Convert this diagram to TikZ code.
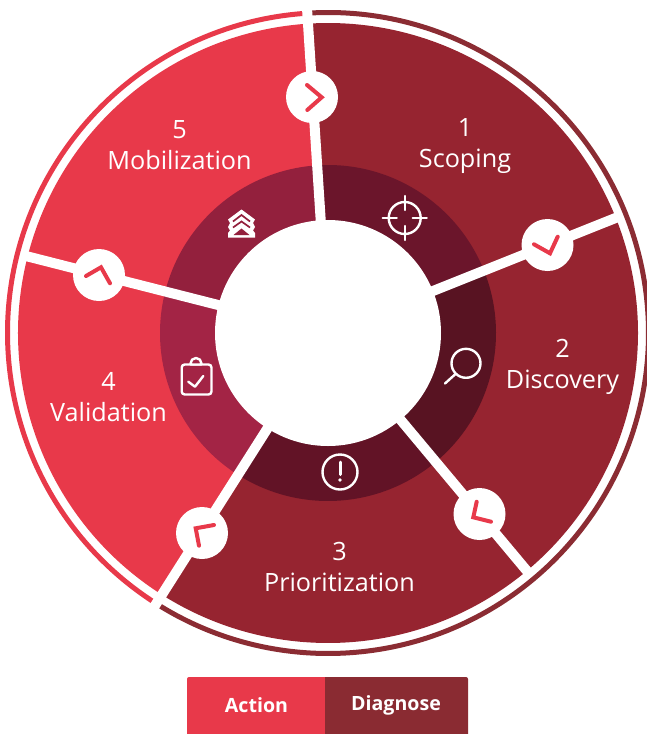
\documentclass[tikz,border=0pt]{standalone}
\usepackage{fontspec}
\setmainfont{Open Sans}
\usetikzlibrary{calc}
\definecolor{lite}{HTML}{E8394A}
\definecolor{dark}{HTML}{962430}
\definecolor{ringdark}{HTML}{8B2C33}
\definecolor{legdark}{HTML}{8A2B32}
\definecolor{midA}{HTML}{6B152B}
\definecolor{midB}{HTML}{581322}
\definecolor{midC}{HTML}{621326}
\definecolor{midD}{HTML}{A32445}
\definecolor{midE}{HTML}{93203D}
\tikzset{
  x=1pt,y=-1pt,
  divider/.style={draw=white,line width=10pt},
  badge/.style={circle,fill=white,draw=none,minimum size=52pt,inner sep=0pt},
  chev/.style={draw=lite,line width=4pt,line cap=round,line join=miter},
  icon/.style={draw=white,line width=2.4pt,line cap=round,line join=round,fill=none},
  lab/.style={text=white,font=\fontsize{25.2}{31}\selectfont,align=center,inner sep=0pt},
  leg/.style={text=white,font=\fontsize{19.6}{22}\selectfont\bfseries,inner sep=0pt}
}
\newcommand{\sector}[4]{\fill[#4] (328,333) -- ($(328,333)+(#1:#3 and -#3)$) arc[start angle=-#1,end angle=-#2,radius=#3] -- cycle;}
\begin{document}
\begin{tikzpicture}
\useasboundingbox (0,0) rectangle (647,734);
\coordinate (c) at (328,333);
% outer ring
\draw[lite,line width=5pt] ($(c)+(93.7:320.5 and -320.5)$) arc[start angle=-93.7,end angle=-237.5,radius=320.5];
\draw[ringdark,line width=5pt] ($(c)+(93.7:320.5 and -320.5)$) arc[start angle=-93.7,end angle=122.5,radius=320.5];
% sectors
\sector{93.7}{21.8}{310}{dark}
\sector{21.8}{-50.1}{310}{dark}
\sector{-50.1}{-122.4}{310}{dark}
\sector{-122.4}{-194.3}{310}{lite}
\sector{165.7}{93.7}{310}{lite}
\sector{93.7}{21.8}{168}{midA}
\sector{21.8}{-50.1}{168}{midB}
\sector{-50.1}{-122.4}{168}{midC}
\sector{-122.4}{-194.3}{168}{midD}
\sector{165.7}{93.7}{168}{midE}
% divider ends
\coordinate (e1) at ($(c)+(93.7:330 and -330)$);
\coordinate (e2) at ($(c)+(21.8:312 and -312)$);
\coordinate (e3) at ($(c)+(-50.1:312 and -312)$);
\coordinate (e4) at ($(c)+(-122.4:330 and -330)$);
\coordinate (e5) at ($(c)+(165.7:312 and -312)$);
\draw[divider] (c) -- (e1);
\draw[divider] (c) -- (e2);
\draw[divider] (c) -- (e3);
\draw[divider] (c) -- (e4);
\draw[divider] (c) -- (e5);
\node[circle,fill=white,minimum size=226pt,inner sep=0pt] (hub) at (c) {};
% badges
\node[badge] (b1) at (312,97) {};
\node[badge] (b2) at (547.5,245) {};
\node[badge] (b3) at (479.5,514) {};
\node[badge] (b4) at (202,533) {};
\node[badge] (b5) at (99,275) {};
\draw[chev] (307,85) -- (321.7,97.3) -- (307.3,110);
\draw[chev] (534,244.3) -- (550,253.3) -- (557.7,236.7);
\draw[chev] (476.7,501.7) -- (473.3,517.3) -- (491,521.7);
\draw[chev] (214,525) -- (195.7,528.3) -- (199,545.7);
\draw[chev] (86,276) -- (101,267.3) -- (110,283.3);
% labels
\node[lab] (l1) at (465,146.5) {1\\Scoping};
\node[lab] (l2) at (562.5,366.5) {2\\Discovery};
\node[lab] (l3) at (339.5,567) {3\\Prioritization};
\node[lab] (l4) at (108.5,397.5) {4\\Validation};
\node[lab] (l5) at (179.5,145.5) {5\\Mobilization};
% crosshair icon
\draw[icon] (404.7,218) circle[radius=16];
\draw[icon] (382.7,218) -- (396.7,218) (412.7,218) -- (426.7,218) (404.7,196) -- (404.7,210) (404.7,226) -- (404.7,240);
% magnifier
\draw[icon] (466,363.3) circle[radius=14.5];
\draw[icon] (455.5,374) -- (445,383.5);
% exclamation
\draw[icon] (340,472) circle[radius=17.5];
\draw[icon,line width=3pt] (340,462) -- (340,474.5);
\fill[white] (340,480) circle[radius=1.8];
% clipboard
\draw[icon,rounded corners=3pt] (181.7,364.5) rectangle (211.5,394.5);
\draw[icon,fill=midD] (190.5,364.5) -- (190.5,363.5) arc[start angle=180,end angle=360,radius=5.5] -- (201.5,364.5) -- cycle;
\draw[icon] (188.3,381.7) -- (195,386.7) -- (203.3,376);
% layers
\fill[white] (241.5,209.5) -- (255,219.5) -- (253,223) -- (255,227) -- (253,230.5) -- (255,233) -- (255,237.5) -- (228,237.5) -- (228,233) -- (230,230.5) -- (228,227) -- (230,223) -- (228,219.5) -- cycle;
\draw[midE,line width=1.7pt] (233,221.5) -- (241.5,215) -- (250,221.5);
\draw[midE,line width=1.7pt] (233,227.5) -- (241.5,221.5) -- (250,227.5);
\fill[midE] (233.5,235) -- (241.5,228.5) -- (249.5,235) -- cycle;
% legend
\path[fill=lite] (187,734) -- (187,679) arc[start angle=180,end angle=270,radius=2] -- (325,677) -- (325,734) -- cycle;
\path[fill=legdark] (325,734) -- (325,677) -- (466,677) arc[start angle=270,end angle=360,radius=2] -- (468,734) -- cycle;
\node[leg] (action) at (256.5,705) {Action};
\node[leg] (diag) at (396,705) {Diagnose};
\end{tikzpicture}
\end{document}
